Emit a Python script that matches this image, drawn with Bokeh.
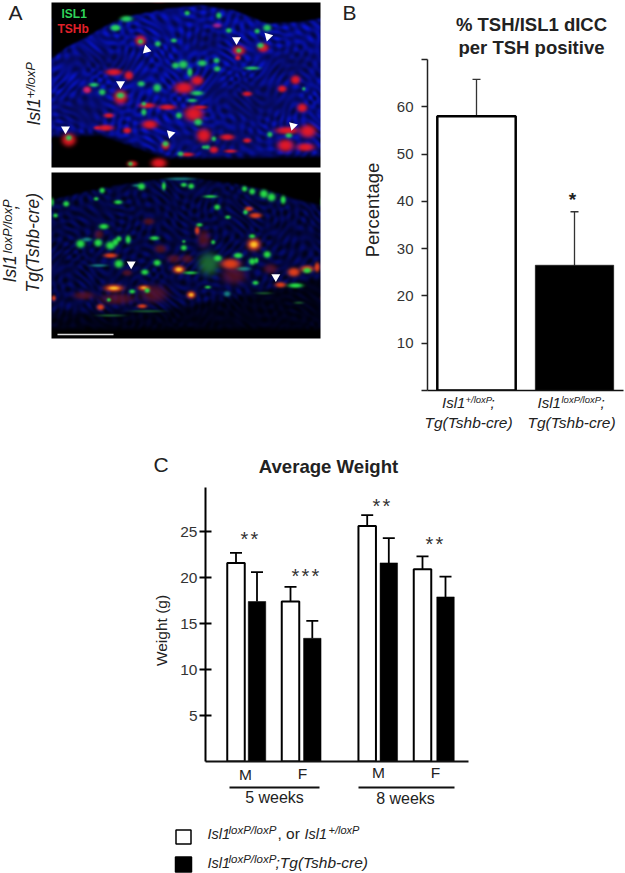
import numpy as np
from bokeh.embed import file_html
from bokeh.layouts import column, row
from bokeh.models import ColumnDataSource, FixedTicker, Label, Range1d, TeeHead, Whisker
from bokeh.plotting import figure
from bokeh.resources import INLINE

# ---------- data ----------
b_categories = ["Isl1+/loxP;Tg(Tshb-cre)", "Isl1loxP/loxP;Tg(Tshb-cre)"]
b_values = [58.0, 26.5]
b_err_top = [65.8, 37.8]
b_ticks = [0, 10, 20, 30, 40, 50, 60, 70]

c_weeks = ["5 weeks", "5 weeks", "5 weeks", "5 weeks", "8 weeks", "8 weeks", "8 weeks", "8 weeks"]
c_sex = ["M", "M", "F", "F", "M", "M", "F", "F"]
c_genotype = ["ctrl", "cre", "ctrl", "cre", "ctrl", "cre", "ctrl", "cre"]
c_values = [21.6, 17.4, 17.4, 13.4, 25.6, 21.6, 20.9, 17.9]
c_err_top = [22.7, 20.6, 19.0, 15.3, 26.8, 24.3, 22.3, 20.1]
c_ticks = [5, 10, 15, 20, 25]

# micrograph cells, read in 3x zoom pixels: (x, y, rx, ry)
a1_green = [(378,55,18,9),(345,82,14,9),(548,192,14,12),(525,195,11,9),(605,188,14,9),(568,215,8,13),(650,205,10,8),
            (648,180,9,8),(755,203,22,5),(520,120,9,6),(472,130,9,8),(420,123,8,7),(470,262,12,12),(422,250,11,8),
            (280,253,14,6),(305,275,10,9),(360,285,12,9),(430,335,8,10),(430,310,7,6),(590,278,18,7),(593,365,12,10),
            (535,345,9,9),(205,412,9,8),(495,430,9,8),(808,402,8,8),(865,405,10,7),(780,135,10,8),(800,82,12,10),
            (770,92,8,7),(715,150,8,7),(685,90,9,7),(655,45,8,9),(560,38,8,7),(640,415,7,7),(620,440,8,6),
            (540,460,9,7),(390,490,7,6),(575,300,14,5),(345,82,12,7),(910,265,5,5),(610,440,6,5)]
a1_red = [(420,120,16,15),(715,150,19,14),(712,172,8,7),(788,142,16,13),(340,215,24,10),(385,225,13,13),(360,290,20,21),
          (260,268,12,10),(448,372,23,13),(315,382,24,9),(380,390,12,9),(205,418,21,19),(495,435,12,12),(610,405,21,20),
          (680,410,21,9),(740,420,12,7),(860,390,34,11),(855,435,24,18),(922,392,24,19),(915,440,26,12),(885,238,14,13),
          (845,265,13,10),(905,322,15,13),(740,280,14,7),(550,262,28,17),(590,240,18,14),(580,340,28,22),(500,320,25,8),
          (440,315,24,8),(325,345,15,7),(475,488,23,15),(395,490,15,9),(560,462,20,6),(640,448,13,10),(690,452,18,5),
          (600,320,20,5),(290,382,10,5)]
a1_magenta = [(650,75,13,7),(260,268,8,7)]
a1_dim = [(760,300,130,70),(240,330,80,50),(660,420,150,40),(880,190,70,45),(300,180,120,30),(620,120,50,30)]
a1_tri = [(438,148,15),(708,118,180),(803,108,165),(360,250,180),(195,386,180),(510,400,165),(877,376,165)]

a2_green = [(155,110,5,12),(197,115,9,8),(305,75,8,8),(287,100,7,5),(353,110,12,6),(165,150,7,6),(423,63,11,10),(490,62,6,12),
            (550,58,9,6),(572,62,9,8),(732,70,8,8),(755,78,9,9),(790,85,12,12),(813,95,12,12),(848,103,8,12),(650,125,9,8),
            (682,155,8,5),(630,93,20,4),(310,183,14,8),(240,235,13,12),(293,232,12,11),(330,240,14,12),(345,230,9,10),
            (355,220,8,8),(383,222,8,12),(462,218,14,6),(550,247,9,8),(638,230,6,6),(355,295,13,12),(433,320,11,8),
            (470,292,11,9),(652,278,12,9),(712,270,12,7),(755,288,10,10),(768,285,6,8),(800,267,11,10),(755,212,9,6),
            (765,352,9,6),(885,360,22,7),(920,315,12,8),(622,365,9,4),(395,378,9,6),(440,375,8,7),(325,403,6,5),
            (597,178,9,5),(570,322,20,4),(735,140,6,6),(550,228,5,4)]
a2_dark_green = [(625,295,30,33),(790,383,24,3),(895,412,14,3),(330,450,40,3),(440,437,50,3)]
a2_orange = [(760,237,20,18),(765,150,18,8),(745,130,12,7),(340,368,28,11),(430,367,17,8),(572,388,13,11),(535,312,18,12),
             (690,295,28,15),(840,358,16,8),(880,320,18,13),(920,310,20,10),(300,425,11,9),(425,422,14,6),(330,270,20,7),
             (950,305,8,14),(160,398,6,8),(590,195,7,12)]
a2_yellow = [(760,237,11,9),(340,368,15,5),(572,388,7,5),(535,312,10,6),(430,367,8,3)]
a2_red_dim = [(295,207,13,13),(445,168,16,10),(520,280,20,12),(480,250,18,12),(380,322,14,9),(610,220,18,25),(350,400,50,16),
              (460,385,40,25),(700,330,35,25),(250,390,30,12),(810,310,20,14),(560,280,16,12)]
a2_cyan = [(680,385,10,8),(735,140,7,7),(260,222,14,6),(715,270,12,8),(295,300,25,4),(730,310,20,6),(540,40,40,4),(410,60,14,4)]
a2_tri = [(392,296,180),(826,334,180)]

a1_top = [(153,170),(200,135),(260,105),(300,80),(350,55),(400,40),(500,20),(600,10),(700,25),(800,65),(900,60),(958,50)]
a1_bottom = [(153,405),(300,400),(500,470),(700,470),(958,465)]
a2_top = [(153,100),(250,75),(350,55),(450,40),(550,30),(700,50),(800,70),(900,100),(958,115)]
a2_bottom = [(153,490),(958,490)]
a2_mid = [(153,440),(300,440),(500,430),(700,395),(958,335)]

# ---------- layout, in page pixels ----------
IMG_X0, IMG_W = 51, 269
IMG1_Y0, IMG1_H = 2, 165
IMG2_Y0, IMG2_H = 172, 166
FONT = "Liberation Sans"
INK = "#222222"
BASELINE_FIX = 0.38  # Label draws an alphabetic baseline this many em below its anchor
WAVES = [(0.62, 0.31, 0.4), (-0.28, 0.66, 1.7), (0.47, -0.49, 2.9), (0.73, 0.12, 4.1), (0.09, 0.71, 5.3)]


def soften(a):
    out = a.copy()
    for axis in (0, 1):
        out = (np.roll(out, 1, axis) + 2 * out + np.roll(out, -1, axis)) / 4
    return out


def render_image(x0, y0, w, h, zoom_y0, top, bottom, blue_hi, blue_lo, layers, mid=None):
    xs, ys = np.meshgrid(np.arange(w) + x0 + 0.5, np.arange(h) + y0 + 0.5)
    top_y = np.interp(xs[0], [p[0] / 3 for p in top], [p[1] / 3 + zoom_y0 for p in top])
    bot_y = np.interp(xs[0], [p[0] / 3 for p in bottom], [p[1] / 3 + zoom_y0 for p in bottom])
    inside = np.clip((ys - top_y) / 3, 0, 1) * np.clip((bot_y - ys) / 6 + 0.5, 0, 1)
    # mottled nuclei texture of the tissue: overlaid waves at unrelated angles, bent so no lattice shows
    wx = xs + 7 * np.sin(ys * 0.071 + 0.6) + 4 * np.sin(xs * 0.043 + ys * 0.113)
    wy = ys + 7 * np.sin(xs * 0.083 + 1.9) + 4 * np.sin(ys * 0.053 - xs * 0.097)
    tex = sum(np.cos(kx * wx + ky * wy + ph) for kx, ky, ph in WAVES) / len(WAVES)
    tex = np.clip(0.5 + 0.65 * tex, 0, 1)
    blue = inside * (blue_lo + (blue_hi - blue_lo) * tex)
    if mid is not None:
        mid_y = np.interp(xs[0], [p[0] / 3 for p in mid], [p[1] / 3 + zoom_y0 for p in mid])
        blue = blue * (1 - 0.62 * np.clip((ys - mid_y) / 6 + 0.5, 0, 1))
    rgb = np.zeros((h, w, 3))
    rgb[..., 2] = blue
    rgb[..., 1] = blue * 0.1
    rgb[..., 0] = blue * 0.04
    for cells, colour, strength in layers:
        for cx, cy, rx, ry in cells:
            px, py = cx / 3, cy / 3 + zoom_y0
            d = ((xs - px) / (rx / 3)) ** 2 + ((ys - py) / (ry / 3)) ** 2
            a = np.exp(-d ** 1.6 * 0.9) * strength
            for k in range(3):
                rgb[..., k] = rgb[..., k] * (1 - a) + colour[k] * a
    rgb = soften(rgb)
    rgba = np.zeros((h, w, 4), dtype=np.uint8)
    rgba[..., :3] = np.clip(rgb, 0, 255).astype(np.uint8)
    rgba[..., 3] = 255
    return rgba[::-1].copy().view(np.uint32).reshape(h, w)


def blank(width, height, x_range, y_range, **kw):
    p = figure(width=width, height=height, x_range=x_range, y_range=y_range, output_backend="svg",
               toolbar_location=None, outline_line_color=None, background_fill_color="white",
               border_fill_color="white", tools="", frame_align=False, **kw)
    p.grid.visible = False
    return p


def strip(x0, y0, w, h):
    p = blank(w, h, Range1d(x0, x0 + w), Range1d(-(y0 + h), -y0), min_border=0)
    p.axis.visible = False
    return p


def label(p, origin, x, y, text, size, bold=False, italic=False, color=INK, align="left", angle=0):
    style = "bold" if bold else ("italic" if italic else "normal")
    fix = BASELINE_FIX * size
    ax, ay_ = (x - fix, y) if angle == 90 else (x, y - fix)
    p.add_layout(Label(x=ax - origin[0], y=ay_ - origin[1], x_units="canvas", y_units="canvas", text=text,
                       text_font=FONT, text_font_size=f"{size}px", text_font_style=style, text_color=color,
                       text_align=align, text_baseline="alphabetic", angle=angle, angle_units="deg"))


# ---------- panel A ----------
OA = (0, 0)
pa = strip(0, 0, 335, 445)
img1 = render_image(IMG_X0, IMG1_Y0, IMG_W, IMG1_H, 0, a1_top, a1_bottom, 205, 65, [
    (a1_dim, (8, 10, 70), 0.5), (a1_red, (235, 25, 35), 0.95), (a1_magenta, (200, 40, 150), 0.8),
    (a1_green, (40, 215, 90), 0.95)])
img2 = render_image(IMG_X0, IMG2_Y0, IMG_W, IMG2_H, 165, a2_top, a2_bottom, 110, 25, [
    (a2_red_dim, (125, 25, 30), 0.6), (a2_dark_green, (35, 125, 50), 0.8), (a2_cyan, (30, 170, 150), 0.75),
    (a2_orange, (235, 65, 25), 0.95), (a2_yellow, (255, 205, 40), 0.95), (a2_green, (40, 225, 70), 1.0)], mid=a2_mid)
pa.image_rgba(image=[img1], x=IMG_X0, y=-(IMG1_Y0 + IMG1_H), dw=IMG_W, dh=IMG1_H)
pa.image_rgba(image=[img2], x=IMG_X0, y=-(IMG2_Y0 + IMG2_H), dw=IMG_W, dh=IMG2_H)
pa.segment(x0=[57], y0=[-334], x1=[113], y1=[-334], line_color="#dddddd", line_width=1.5)
tri_x = [t[0] / 3 for t in a1_tri] + [t[0] / 3 for t in a2_tri]
tri_y = [-t[1] / 3 for t in a1_tri] + [-(t[1] / 3 + 165) for t in a2_tri]
tri_a = [np.deg2rad(t[2]) for t in a1_tri + a2_tri]
pa.scatter(tri_x, tri_y, marker="triangle", size=9, angle=tri_a, fill_color="white", line_color=None)
label(pa, OA, 8, 20, "A", 21)
label(pa, OA, 61, 18, "ISL1", 12, bold=True, color="#2fd35a")
label(pa, OA, 57, 33, "TSHb", 12, bold=True, color="#e0202a")
label(pa, OA, 40, 125, "Isl1", 17.5, italic=True, angle=90)
label(pa, OA, 35, 98, "+/loxP", 13, italic=True, angle=90)
label(pa, OA, 16, 282, "Isl1", 17.5, italic=True, angle=90)
label(pa, OA, 12, 253, "loxP/loxP", 13, italic=True, angle=90)
label(pa, OA, 17, 209, ";", 17.5, italic=True, angle=90)
label(pa, OA, 39, 292, "Tg(Tshb-cre)", 17.5, italic=True, angle=90)

# ---------- panel B ----------
bt = strip(335, 0, 290, 57)
OBT = (335, 0)
label(bt, OBT, 342, 20, "B", 21)
label(bt, OBT, 531, 31, "% TSH/ISL1 dICC", 18.5, bold=True, align="center")
label(bt, OBT, 531, 54, "per TSH positive", 18.5, bold=True, align="center")

bl = strip(335, 57, 55, 336)
label(bl, (335, 57), 379, 209.5, "Percentage", 18.5, align="center", angle=90)

OB = (390, 57)
pb = blank(235, 336, Range1d(-0.5, 1.5), Range1d(0, 70), min_border_left=37, min_border_right=2, min_border_top=2,
           min_border_bottom=3)
b_x = list(range(len(b_categories)))
pb.vbar(x=b_x, top=b_values, width=0.8, bottom=0, fill_color=["white", "black"], line_color="black",
        line_width=[2.5, 0.5])
pb.add_layout(Whisker(base="x", lower="lo", upper="hi", source=ColumnDataSource(dict(x=b_x, lo=b_values, hi=b_err_top)),
                      line_color="#333333", line_width=1.3, lower_head=None,
                      upper_head=TeeHead(size=8, line_color="#333333", line_width=1.3)))
pb.xaxis.ticker = FixedTicker(ticks=[])
pb.xaxis.axis_line_color = "#111111"
pb.xaxis.axis_line_width = 1.5
pb.xaxis.major_tick_line_color = None
pb.xaxis.minor_tick_line_color = None
ay = pb.yaxis[0]
ay.ticker = FixedTicker(ticks=b_ticks)
ay.major_label_overrides = {0: "", 70: ""}
ay.axis_line_color = "#222222"
ay.axis_line_width = 1.5
ay.major_tick_line_color = "#222222"
ay.major_tick_line_width = 1.3
ay.major_tick_in = 0
ay.major_tick_out = 6
ay.minor_tick_line_color = None
ay.major_label_standoff = 8
ay.major_label_text_font = FONT
ay.major_label_text_font_size = "15px"
ay.major_label_text_color = "#333333"
label(pb, OB, 572, 206, "*", 19, bold=True, align="center")

bb = strip(335, 393, 290, 52)
OBB = (335, 393)
label(bb, OBB, 441.5, 408, "Isl1", 15, italic=True)
label(bb, OBB, 465, 403, "+/loxP", 9.5, italic=True)
label(bb, OBB, 490, 408, ";", 15, italic=True)
label(bb, OBB, 424, 428, "Tg(Tshb-cre)", 15.5, italic=True)
label(bb, OBB, 537, 408, "Isl1", 15, italic=True)
label(bb, OBB, 561, 403, "loxP/loxP", 9.5, italic=True)
label(bb, OBB, 600, 408, ";", 15, italic=True)
label(bb, OBB, 527, 428, "Tg(Tshb-cre)", 15.5, italic=True)

# ---------- panel C ----------
ct = strip(0, 445, 625, 40)
OCT = (0, 445)
label(ct, OCT, 153, 472, "C", 21)
label(ct, OCT, 328, 473, "Average Weight", 18.6, bold=True, align="center")

cl = strip(0, 485, 175, 279)
label(cl, (0, 485), 167, 630, "Weight (g)", 15.5, align="center", angle=90)

OC = (175, 485)
pc = blank(450, 279, Range1d(0, 263), Range1d(0, 29.8), min_border_left=30, min_border_right=157, min_border_top=2,
           min_border_bottom=3)
group_x = {("5 weeks", "M"): 30.5, ("5 weeks", "F"): 85.0, ("8 weeks", "M"): 161.7, ("8 weeks", "F"): 217.0}
geno_gap = {("5 weeks", "M"): 21.0, ("5 weeks", "F"): 21.8, ("8 weeks", "M"): 21.6, ("8 weeks", "F"): 23.0}
c_x = [group_x[(w, s)] + (geno_gap[(w, s)] if g == "cre" else 0) for w, s, g in zip(c_weeks, c_sex, c_genotype)]
geno_fill = {"ctrl": "white", "cre": "black"}
pc.vbar(x=c_x, top=c_values, width=17.5, bottom=0, fill_color=[geno_fill[g] for g in c_genotype], line_color="black",
        line_width=[2 if g == "ctrl" else 0.5 for g in c_genotype])
pc.add_layout(Whisker(base="x", lower="lo", upper="hi", source=ColumnDataSource(dict(x=c_x, lo=c_values, hi=c_err_top)),
                      line_color="black", line_width=1.8, lower_head=None,
                      upper_head=TeeHead(size=12, line_color="black", line_width=1.8)))
pc.xaxis.ticker = FixedTicker(ticks=[])
pc.xaxis.axis_line_color = "#111111"
pc.xaxis.axis_line_width = 1.8
pc.xaxis.major_tick_line_color = None
pc.xaxis.minor_tick_line_color = None
cy = pc.yaxis[0]
cy.ticker = FixedTicker(ticks=c_ticks)
cy.axis_line_color = "black"
cy.axis_line_width = 2
cy.major_tick_line_color = "black"
cy.major_tick_line_width = 1.8
cy.major_tick_in = 6
cy.major_tick_out = 6
cy.minor_tick_line_color = None
cy.major_label_standoff = 2
cy.major_label_text_font = FONT
cy.major_label_text_font_size = "15.5px"
cy.major_label_text_color = "#333333"
for cx_, cy_, n in ((249, 537, 2), (305, 574, 3), (381, 504, 2), (434, 542, 2)):
    for i in range(n):
        label(pc, OC, cx_ + (i - (n - 1) / 2) * 10, cy_ + 9, "*", 20, align="center", color="#333333")

# ---------- labels under C, week brackets and legend ----------
OL = (0, 764)
pl = strip(0, 764, 625, 109)
for s, x, y in (("M", 245, 780), ("F", 302, 779), ("M", 378, 778), ("F", 435, 778)):
    label(pl, OL, x, y, s, 15.5, align="center")
pl.segment(x0=[229, 358], y0=[-787, -787], x1=[319, 454], y1=[-787, -787], line_color="#111111", line_width=1.8)
label(pl, OL, 274, 803, sorted(set(c_weeks))[0], 16, align="center")
label(pl, OL, 405, 804, sorted(set(c_weeks))[1], 16, align="center")
pl.rect(x=[183, 183], y=[-836.5, -864], width=[15, 16], height=[14, 15], fill_color=["white", "black"],
        line_color="black", line_width=1.5)
label(pl, OL, 207, 839, "Isl1", 14.5, italic=True)
label(pl, OL, 228, 834, "loxP/loxP", 11.5, italic=True)
label(pl, OL, 277, 839, ", or ", 15.5)
label(pl, OL, 304, 839, "Isl1", 14.5, italic=True)
label(pl, OL, 328, 834, "+/loxP", 11, italic=True)
label(pl, OL, 207, 868, "Isl1", 14.5, italic=True)
label(pl, OL, 228, 863, "loxP/loxP", 11.5, italic=True)
label(pl, OL, 275, 868, ";Tg(Tshb-cre)", 15.5, italic=True)

root = column(row(pa, column(bt, row(bl, pb, spacing=0), bb, spacing=0), spacing=0), ct, row(cl, pc, spacing=0), pl,
              spacing=0)
open("out.html", "w").write(file_html(root, INLINE))
